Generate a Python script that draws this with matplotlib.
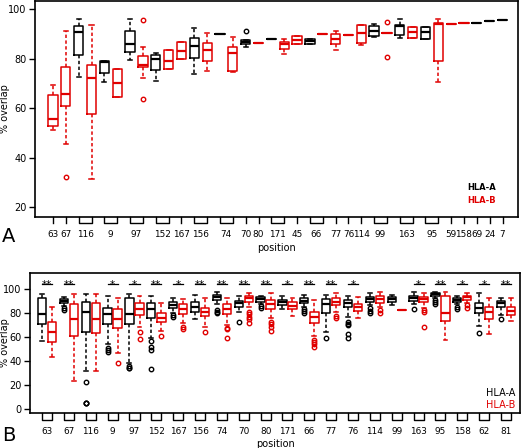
import matplotlib
matplotlib.use('Agg')
import matplotlib.pyplot as plt
import matplotlib.transforms as mtransforms

RED = '#e00000'

# ---------------- panel A: one entry per box, left to right ----------------
a_pos = ['63', '67', '116', '116', '9', '9', '97', '97', '152', '152', '167',
         '156', '156', '74', '74', '70', '80', '171', '171', '45', '66', '66',
         '77', '76', '114', '99', '99', '163', '163', '95', '95',
         '59', '158', '69', '24', '7']
a_hla = ['B', 'B', 'A', 'B', 'A', 'B', 'A', 'B', 'A', 'B', 'B',
         'A', 'B', 'A', 'B', 'A', 'B', 'A', 'B', 'B', 'A', 'B',
         'B', 'B', 'B', 'A', 'B', 'A', 'B', 'A', 'B',
         'B', 'B', 'A', 'A', 'A']
a_lo = [51.1, 45.7, 72.7, 31.3, 70.6, 64.6, 79.4, 72.4, 70.9, 76.0, 79.7,
        74.0, 74.9, 89.9, 74.6, 84.8, 86.5, 87.9, 82.1, 86.1, 86.1, 90.0,
        83.4, 89.6, 85.5, 88.8, 90.2, 88.2, 88.2, 87.9, 70.4,
        93.9, 94.3, 94.6, 95.3, 95.8]
a_q1 = [52.9, 60.9, 81.7, 57.6, 74.3, 64.6, 82.8, 76.7, 75.6, 76.0, 79.7,
        80.1, 79.1, 89.9, 74.9, 85.9, 86.5, 87.9, 83.8, 86.1, 86.1, 90.0,
        86.1, 89.6, 86.4, 89.2, 90.2, 89.5, 88.2, 87.9, 79.1,
        93.9, 94.3, 94.6, 95.3, 95.8]
a_med = [55.8, 65.7, 90.8, 72.4, 78.5, 70.2, 86.1, 77.4, 79.7, 79.0, 83.2,
         85.2, 83.4, 89.9, 82.5, 86.8, 86.5, 87.9, 86.1, 87.6, 87.1, 90.0,
         88.1, 89.6, 90.2, 91.2, 90.2, 93.3, 90.6, 90.6, 93.9,
         93.9, 94.3, 94.6, 95.3, 95.8]
a_q3 = [65.5, 76.7, 93.3, 77.6, 79.0, 76.0, 91.1, 81.1, 81.4, 83.4, 86.8,
        88.2, 86.5, 89.9, 84.8, 87.7, 86.5, 87.9, 86.8, 89.1, 88.0, 90.0,
        90.0, 89.6, 93.5, 93.1, 90.2, 93.5, 92.8, 92.8, 94.6,
        93.9, 94.3, 94.6, 95.3, 95.8]
a_hi = [69.3, 91.2, 96.0, 93.5, 79.0, 76.0, 96.0, 84.8, 82.4, 83.4, 86.8,
        92.6, 90.4, 89.9, 88.8, 87.7, 86.5, 87.9, 87.9, 89.1, 88.0, 90.0,
        91.0, 89.6, 93.5, 94.2, 90.2, 96.0, 92.8, 92.8, 96.0,
        93.9, 94.3, 94.6, 95.3, 95.8]
a_fliers = [[], [32.2], [], [], [], [], [], [95.8, 63.6], [], [], [],
            [], [], [], [], [91.2], [], [], [], [], [], [],
            [], [], [], [], [94.9, 80.7], [], [], [], [],
            [], [], [], [], []]

# ---------------- panel B: one entry per position ----------------
b_pos = ['63', '67', '116', '9', '97', '152', '167', '156', '74', '70', '80',
         '171', '66', '77', '76', '114', '99', '163', '95', '158', '62', '81']
b_stars = ['**', '**', '', '*', '*', '**', '*', '**', '**', '**', '**',
           '*', '**', '**', '*', '', '', '*', '**', '*', '*', '**']

# HLA-A
ba_lo = [57.0, 86.3, 31.7, 54.3, 38.2, 59.0, 80.5, 74.9, 87.4, 80.8, 87.9,
         83.5, 85.5, 64.6, 76.6, 86.9, 87.0, 88.0, 93.0, 87.7, 69.3, 78.5]
ba_q1 = [71.0, 88.3, 64.0, 70.7, 70.7, 75.8, 84.1, 81.3, 91.1, 85.5, 89.7,
         87.0, 88.3, 80.0, 85.0, 89.1, 89.1, 90.2, 94.7, 89.7, 80.0, 85.0]
ba_med = [79.0, 90.2, 80.8, 79.0, 79.3, 83.3, 86.9, 85.0, 93.3, 88.8, 91.9,
          89.1, 90.5, 87.4, 88.8, 91.6, 91.6, 93.0, 96.0, 91.1, 84.1, 88.3]
ba_q3 = [93.0, 92.0, 89.1, 84.7, 93.0, 88.3, 89.1, 89.1, 95.2, 90.5, 93.3,
         91.1, 92.5, 91.6, 91.1, 93.8, 93.3, 94.7, 97.2, 92.5, 88.8, 90.5]
ba_hi = [96.0, 93.8, 96.0, 94.7, 96.0, 94.7, 92.5, 95.2, 97.5, 94.7, 94.7,
         94.7, 95.2, 95.2, 94.7, 97.2, 95.2, 98.0, 98.0, 94.7, 96.7, 92.5]
ba_fliers = [[], [84.6, 82.5], [22.8, 5.3, 5.0, 4.6], [51.0, 49.0, 47.5],
             [36.0, 34.5, 34.0], [57.0, 52.0, 49.0, 33.4], [78.4, 76.5],
             [], [82.5, 81.0, 80.0], [73.0], [86.0, 84.0], [],
             [83.5, 82.0, 80.5], [59.0], [73.0, 71.0, 70.0, 62.5, 59.0],
             [84.0, 82.0, 80.5], [], [83.3], [91.0, 89.5, 88.0],
             [85.0, 83.5], [63.7], [75.0]]

# HLA-B
bb_lo = [43.2, 23.7, 31.7, 47.0, 68.2, 65.2, 72.1, 68.8, 70.2, 85.0, 75.8,
         78.0, 61.0, 81.3, 76.3, 85.5, 82.7, 84.1, 57.6, 88.8, 62.7, 73.8]
bb_q1 = [55.7, 61.0, 63.8, 67.4, 78.5, 72.4, 79.4, 78.0, 79.1, 89.7, 83.3,
         83.5, 71.6, 87.0, 82.0, 88.3, 82.7, 89.1, 73.8, 91.1, 74.9, 78.5]
bb_med = [64.6, 75.2, 75.2, 75.2, 83.5, 76.3, 83.5, 81.3, 83.5, 92.5, 87.4,
          86.3, 76.6, 89.7, 85.0, 91.9, 82.7, 91.9, 80.0, 93.3, 81.3, 81.9]
bb_q3 = [72.4, 87.7, 88.3, 83.3, 88.3, 80.5, 87.4, 84.7, 87.4, 94.7, 91.1,
         89.1, 81.3, 92.5, 87.4, 94.3, 82.7, 93.8, 94.4, 94.7, 85.5, 85.0]
bb_hi = [85.5, 96.0, 96.0, 92.5, 94.7, 88.3, 91.9, 92.5, 92.5, 97.2, 96.7,
         92.5, 91.1, 97.2, 93.8, 97.5, 82.7, 97.2, 98.0, 97.2, 92.5, 92.5]
bb_fliers = [[], [], [], [38.2], [64.0, 58.2], [61.0], [68.8, 67.0],
             [64.6], [68.0, 66.5, 59.6], [81.3, 79.0, 77.0, 75.0, 72.0],
             [73.0, 71.0, 68.8, 65.0], [], [58.0, 56.0, 54.0, 52.0],
             [78.0, 76.0], [], [82.5, 80.5], [], [83.0, 81.0, 68.8],
             [], [86.5, 84.7], [], []]


def make_stats(lo, q1, med, q3, hi, fl):
    return [dict(whislo=l, q1=a, med=m, q3=b, whishi=h, fliers=f)
            for l, a, m, b, h, f in zip(lo, q1, med, q3, hi, fl)]


def draw_boxes(ax, stats, pos, color, width, capw):
    ax.bxp(stats, positions=pos, widths=width, capwidths=capw,
           showfliers=True, manage_ticks=False,
           boxprops=dict(color=color, lw=1.1),
           medianprops=dict(color=color, lw=1.6),
           whiskerprops=dict(color=color, lw=1.1, linestyle=(0, (2.2, 1.6))),
           capprops=dict(color=color, lw=1.1),
           flierprops=dict(marker='o', markersize=3.2, markerfacecolor='none',
                           markeredgecolor=color, markeredgewidth=1.0))


def style_axis(ax):
    for sp in ax.spines.values():
        sp.set_linewidth(1.2)
    ax.tick_params(axis='y', labelsize=7, length=4, width=1, pad=2)
    ax.tick_params(axis='x', labelsize=6.4, length=0)


def brackets(ax, groups, depth):
    trans = mtransforms.blended_transform_factory(ax.transData, ax.transAxes)
    for x0, x1 in groups:
        if x0 == x1:
            ax.plot([x0, x0], [0, -depth], color='black', lw=1.0,
                    transform=trans, clip_on=False)
        else:
            ax.plot([x0, x0, x1, x1], [0, -depth, -depth, 0], color='black',
                    lw=1.0, transform=trans, clip_on=False)


fig = plt.figure(figsize=(5.21, 4.48), dpi=100)

# ---------------- panel A ----------------
axA = fig.add_axes([0.0672, 0.5156, 0.927, 0.482])
xa = list(range(1, len(a_pos) + 1))
stats_a = make_stats(a_lo, a_q1, a_med, a_q3, a_hi, a_fliers)
idx_A = [i for i, h in enumerate(a_hla) if h == 'A']
idx_B = [i for i, h in enumerate(a_hla) if h == 'B']
draw_boxes(axA, [stats_a[i] for i in idx_A], [xa[i] for i in idx_A], 'black', 0.72, 0.32)
draw_boxes(axA, [stats_a[i] for i in idx_B], [xa[i] for i in idx_B], RED, 0.72, 0.32)

# group consecutive boxes of the same position
groupsA, labelsA = [], []
for i, p in enumerate(a_pos):
    if labelsA and labelsA[-1] == p and groupsA[-1][1] == xa[i] - 1:
        groupsA[-1] = (groupsA[-1][0], xa[i])
    else:
        groupsA.append((xa[i], xa[i]))
        labelsA.append(p)
brackets(axA, groupsA, 0.028)
axA.set_xticks([(g0 + g1) / 2 for g0, g1 in groupsA], labelsA)
axA.set_xlim(-0.4, 37.2)
axA.set_ylim(16, 103.3)
axA.set_yticks([20, 40, 60, 80, 100])
style_axis(axA)
axA.tick_params(axis='x', pad=9)
axA.set_xlabel('position', fontsize=7, labelpad=3)
axA.set_ylabel('% overlap', fontsize=7)
axA.yaxis.set_label_coords(-0.052, 0.5)
axA.text(0.955, 0.135, 'HLA-A', transform=axA.transAxes, ha='right', va='center',
         fontsize=6, fontweight='bold', color='black')
axA.text(0.955, 0.075, 'HLA-B', transform=axA.transAxes, ha='right', va='center',
         fontsize=6, fontweight='bold', color=RED)
fig.text(0.004, 0.472, 'A', fontsize=14, ha='left', va='center')

# ---------------- panel B ----------------
axB = fig.add_axes([0.0576, 0.078, 0.9405, 0.3125])
xb = list(range(len(b_pos)))
off = 0.23
xbA = [x - off for x in xb]
xbB = [x + off for x in xb]
draw_boxes(axB, make_stats(ba_lo, ba_q1, ba_med, ba_q3, ba_hi, ba_fliers), xbA,
           'black', 0.38, 0.18)
draw_boxes(axB, make_stats(bb_lo, bb_q1, bb_med, bb_q3, bb_hi, bb_fliers), xbB,
           RED, 0.38, 0.18)
brackets(axB, list(zip(xbA, xbB)), 0.05)
for x0, x1, s in zip(xbA, xbB, b_stars):
    if s:
        axB.plot([x0, x1], [104.4, 104.4], color='black', lw=0.9)
        axB.text((x0 + x1) / 2, 101.3, s, ha='center', va='baseline', fontsize=7.5)
axB.set_xticks(xb, b_pos)
axB.set_xlim(-0.78, 21.64)
axB.set_ylim(-3.4, 113.6)
axB.set_yticks([0, 20, 40, 60, 80, 100])
style_axis(axB)
axB.tick_params(axis='x', pad=10)
axB.set_xlabel('position', fontsize=7, labelpad=2)
axB.set_ylabel('% overlap', fontsize=7)
axB.yaxis.set_label_coords(-0.041, 0.5)
axB.text(0.99, 0.14, 'HLA-A', transform=axB.transAxes, ha='right', va='center',
         fontsize=7, color='black')
axB.text(0.99, 0.055, 'HLA-B', transform=axB.transAxes, ha='right', va='center',
         fontsize=7, color=RED)
fig.text(0.004, 0.029, 'B', fontsize=14, ha='left', va='center')

fig.savefig('out.png', dpi=100)
